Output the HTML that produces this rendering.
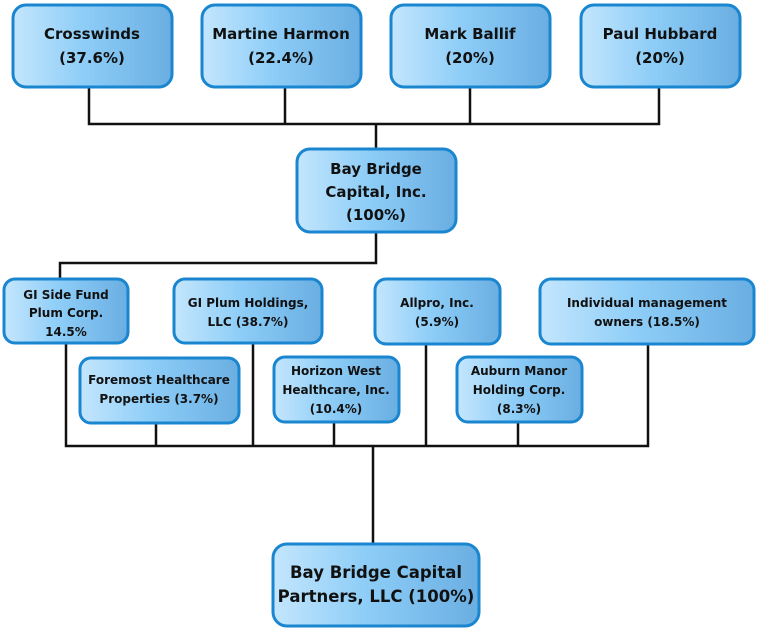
<!DOCTYPE html>
<html><head><meta charset="utf-8"><style>
html,body{margin:0;padding:0;background:#fff;width:757px;height:630px;overflow:hidden}
text{font-family:"DejaVu Sans","Liberation Sans",sans-serif;font-weight:bold;fill:#111;text-anchor:middle}
</style></head><body>
<svg width="757" height="630" viewBox="0 0 757 630" xmlns="http://www.w3.org/2000/svg">
<defs><linearGradient id="g" x1="0" x2="1" y1="0" y2="0">
<stop offset="0" stop-color="#c4e6fd"/><stop offset="0.45" stop-color="#8dcdf7"/><stop offset="1" stop-color="#6aaee2"/></linearGradient></defs>
<g stroke="#111" stroke-width="2.5" fill="none">
<path d="M89 87V124H659V87M285 87V124M470 87V124M376 124V148"/>
<path d="M376 232V263H60V278"/>
<path d="M66 343V446H648V343M156 423V446M253 343V446M334 422V446M426 344V446M518 422V446M373 446V543"/>
</g>
<g fill="url(#g)" stroke="#1a86cf" stroke-width="3">
<rect x="13" y="5" width="159" height="82" rx="13"/>
<rect x="202" y="5" width="159" height="82" rx="13"/>
<rect x="391" y="5" width="159" height="82" rx="13"/>
<rect x="581" y="5" width="159" height="82" rx="13"/>
<rect x="297" y="149" width="159" height="83" rx="13"/>
<rect x="4" y="279" width="124" height="64" rx="11"/>
<rect x="174" y="279" width="148" height="64" rx="11"/>
<rect x="375" y="279" width="125" height="65" rx="11"/>
<rect x="540" y="279" width="214" height="65" rx="11"/>
<rect x="80" y="358" width="159" height="65" rx="11"/>
<rect x="274" y="357" width="125" height="65" rx="11"/>
<rect x="457" y="357" width="125" height="65" rx="11"/>
<rect x="273" y="544" width="206" height="82" rx="14"/>
</g>
<g font-size="15">
<text x="92" y="39">Crosswinds</text><text x="92" y="63">(37.6%)</text>
<text x="281" y="39">Martine Harmon</text><text x="281" y="63">(22.4%)</text>
<text x="470" y="39">Mark Ballif</text><text x="470" y="63">(20%)</text>
<text x="660" y="39">Paul Hubbard</text><text x="660" y="63">(20%)</text>
<text x="376" y="174">Bay Bridge</text><text x="376" y="197">Capital, Inc.</text><text x="376" y="220">(100%)</text>
</g>
<g font-size="12">
<text x="66" y="299">GI Side Fund</text><text x="66" y="317">Plum Corp.</text><text x="66" y="336">14.5%</text>
<text x="248" y="307">GI Plum Holdings,</text><text x="248" y="326">LLC (38.7%)</text>
<text x="437" y="307">Allpro, Inc.</text><text x="437" y="326">(5.9%)</text>
<text x="647" y="307">Individual management</text><text x="647" y="326">owners (18.5%)</text>
<text x="159" y="384">Foremost Healthcare</text><text x="159" y="403">Properties (3.7%)</text>
<text x="336" y="375">Horizon West</text><text x="336" y="394">Healthcare, Inc.</text><text x="336" y="413">(10.4%)</text>
<text x="519" y="375">Auburn Manor</text><text x="519" y="394">Holding Corp.</text><text x="519" y="413">(8.3%)</text>
</g>
<g font-size="16.5">
<text x="376" y="578">Bay Bridge Capital</text><text x="376" y="602">Partners, LLC (100%)</text>
</g>
</svg>
</body></html>
